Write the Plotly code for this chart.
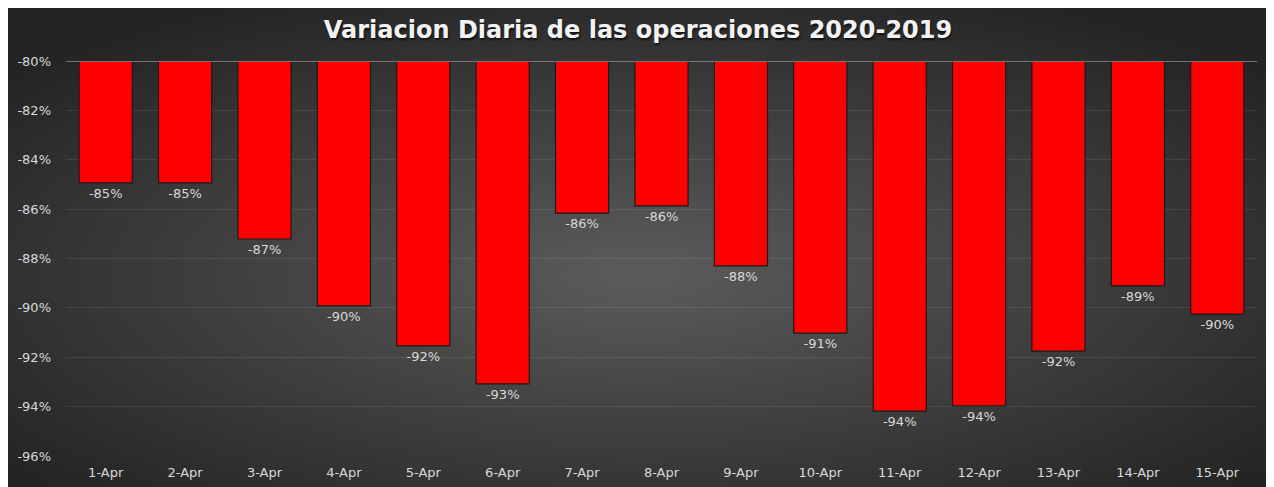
import base64, struct, zlib, math
import plotly.graph_objects as go

# ---- data ----
categories = ["1-Apr", "2-Apr", "3-Apr", "4-Apr", "5-Apr", "6-Apr", "7-Apr", "8-Apr",
              "9-Apr", "10-Apr", "11-Apr", "12-Apr", "13-Apr", "14-Apr", "15-Apr"]
variation = [-0.8494, -0.8494, -0.8721, -0.8992, -0.9154, -0.9308, -0.8616, -0.8587,
             -0.8830, -0.9102, -0.9418, -0.9397, -0.9175, -0.8911, -0.9025]
axis_top = -0.80
axis_bottom = -0.96
tick_vals = [-0.80, -0.82, -0.84, -0.86, -0.88, -0.90, -0.92, -0.94, -0.96]
tick_text = ["-80%", "-82%", "-84%", "-86%", "-88%", "-90%", "-92%", "-94%", "-96%"]
title_text = "Variacion Diaria de las operaciones 2020-2019"

# ---- radial gradient background (PNG built in memory) ----
def gradient_png(w, h, c_in, c_out):
    rows = []
    for j in range(h):
        row = bytearray([0])
        for i in range(w):
            dx = (i - w / 2) / (w / 2)
            dy = (j - h * 0.55) / (h / 2)
            d = min(1.0, math.sqrt(dx * dx + dy * dy) / 1.3)
            v = int(round(c_in + (c_out - c_in) * d))
            row += bytes([v, v, v])
        rows.append(bytes(row))
    raw = b"".join(rows)
    def chunk(t, data):
        c = struct.pack(">I", len(data)) + t + data
        return c + struct.pack(">I", zlib.crc32(t + data) & 0xffffffff)
    png = b"\x89PNG\r\n\x1a\n"
    png += chunk(b"IHDR", struct.pack(">IIBBBBB", w, h, 8, 2, 0, 0, 0))
    png += chunk(b"IDAT", zlib.compress(raw, 9))
    png += chunk(b"IEND", b"")
    return "data:image/png;base64," + base64.b64encode(png).decode()

bg = gradient_png(320, 120, 92, 36)

W, H = 1261, 479
L, R, T, B = 58, 12, 53, 31
pw, ph = W - L - R, H - T - B
x0p = -L / pw
x1p = 1 + R / pw
y0p = 1 + T / ph
y1p = -B / ph

text_color = "#d9d9d9"
font_family = "DejaVu Sans, sans-serif"

fig = go.Figure()
fig.add_trace(go.Bar(
    x=categories,
    y=[v - axis_top for v in variation],
    base=axis_top,
    marker=dict(color="#ff0000", line=dict(color="#1a1a1a", width=1.2)),
    text=[f"{v:.0%}" for v in variation],
    textposition="outside",
    textfont=dict(color=text_color, size=13, family=font_family),
    cliponaxis=False,
    customdata=variation,
    hovertemplate="%{x}: %{customdata:.1%}<extra></extra>",
))

fig.add_shape(type="line", xref="paper", yref="y", x0=0, x1=1, y0=axis_top, y1=axis_top,
              line=dict(color="#8c8c8c", width=1.5), layer="above")

fig.update_layout(
    width=W, height=H,
    margin=dict(l=L, r=R, t=T, b=B, pad=0),
    paper_bgcolor="#2a2a2a",
    plot_bgcolor="rgba(0,0,0,0)",
    bargap=0.33,
    showlegend=False,
    title=dict(text=title_text, x=(638 - 8) / W, xref="container", xanchor="center",
               y=(H - 22) / H, yref="container", yanchor="middle",
               font=dict(family="DejaVu Sans, sans-serif", size=24, color="#f2f2f2",
                         weight="bold", shadow="1px 2px 2px #111111")),
    images=[dict(source=bg, xref="paper", yref="paper", x=x0p, y=y0p,
                 sizex=x1p - x0p, sizey=y0p - y1p, xanchor="left", yanchor="top",
                 sizing="stretch", layer="below")],
    xaxis=dict(showgrid=False, showline=False, zeroline=False, ticks="",
               ticklabelstandoff=7, automargin=False,
               tickfont=dict(color=text_color, size=13, family=font_family)),
    yaxis=dict(range=[axis_bottom, axis_top], tickvals=tick_vals, ticktext=tick_text,
               showgrid=True, gridcolor="rgba(255,255,255,0.09)", gridwidth=1,
               zeroline=False, showline=False, ticks="", ticklabelstandoff=14,
               automargin=False,
               tickfont=dict(color=text_color, size=13, family=font_family)),
)

fig.write_html("out.html")
